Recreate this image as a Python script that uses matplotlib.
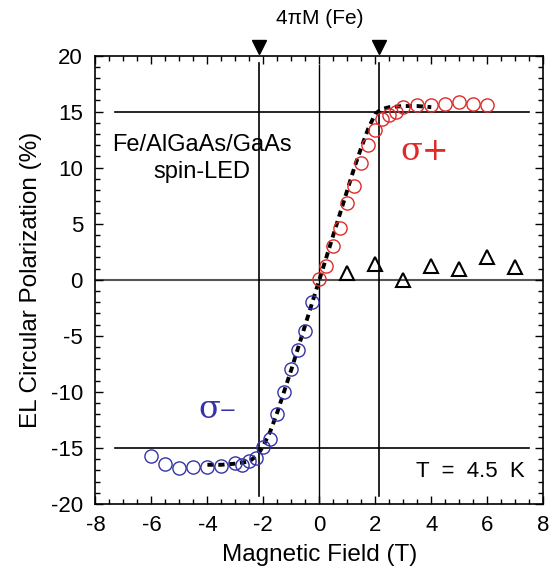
import matplotlib
matplotlib.use("Agg")
import matplotlib.pyplot as plt
from matplotlib.ticker import MultipleLocator

plt.rcParams["font.family"] = ["Liberation Sans", "DejaVu Sans"]
plt.rcParams["axes.unicode_minus"] = False

# sigma+ data (red circles)
b_plus = [0.0, 0.25, 0.5, 0.75, 1.0, 1.25, 1.5, 1.75, 2.0, 2.25, 2.5, 2.75, 3.0,
          3.5, 4.0, 4.5, 5.0, 5.5, 6.0]
p_plus = [0.05, 1.25, 3.0, 4.6, 6.85, 8.4, 10.4, 12.0, 13.4, 14.3, 14.7, 15.0, 15.4,
          15.6, 15.6, 15.7, 15.9, 15.7, 15.6]

# sigma- data (blue circles)
b_minus = [-0.25, -0.5, -0.75, -1.0, -1.25, -1.5, -1.75, -2.0, -2.25, -2.5, -2.75,
           -3.0, -3.5, -4.0, -4.5, -5.0, -5.5, -6.0]
p_minus = [-2.0, -4.55, -6.3, -8.0, -10.0, -12.0, -14.2, -14.9, -15.9, -16.2, -16.5,
           -16.3, -16.6, -16.7, -16.7, -16.8, -16.4, -15.7]

# triangles
b_tri = [1, 2, 3, 4, 5, 6, 7]
p_tri = [0.65, 1.4, 0.0, 1.2, 0.95, 2.0, 1.1]

# dashed curve (Fe magnetization)
b_fit = [-4.0, -3.5, -3.0, -2.5, -2.2, -2.0, -1.75, -1.5, -1.25, -1.0, -0.75, -0.5,
         -0.25, 0.0, 0.25, 0.5, 0.75, 1.0, 1.25, 1.5, 1.75, 2.0, 2.2, 2.5, 3.0, 3.5, 4.0]
p_fit = [-16.5, -16.5, -16.4, -16.2, -15.6, -14.8, -13.5, -11.8, -9.9, -8.0, -6.0, -4.0,
         -2.0, 0.0, 2.0, 4.0, 6.0, 8.0, 10.0, 11.8, 13.5, 14.8, 15.2, 15.4, 15.5, 15.5, 15.4]

b_sat = 2.15
red = "#e02a2a"
blue = "#3434a6"

fig = plt.figure(figsize=(5.52, 5.79), dpi=100)
ax = fig.add_axes([0.173, 0.1295, 0.811, 0.7745])

ax.plot([-8, 8], [0, 0], color="#555555", lw=1.5, zorder=1)
ax.plot([-7.3, 7.5], [15, 15], color="black", lw=1.2, zorder=1)
ax.plot([-7.3, 7.5], [-15, -15], color="black", lw=1.2, zorder=1)
ax.plot([-b_sat, -b_sat], [-19.3, 19.3], color="black", lw=1.2, zorder=1)
ax.plot([b_sat, b_sat], [-19.3, 19.3], color="black", lw=1.2, zorder=1)
ax.plot([0, 0], [-20, 19.2], color="black", lw=1.0, zorder=1)

ax.plot(b_fit, p_fit, color="black", lw=2.8, dashes=(1.6, 1.2), zorder=3)
ax.plot(b_plus, p_plus, "o", mfc="none", mec=red, ms=9.5, mew=1.0, zorder=4)
ax.plot(b_minus, p_minus, "o", mfc="none", mec=blue, ms=9.5, mew=1.0, zorder=4)
ax.plot(b_tri, p_tri, "^", mfc="none", mec="black", ms=9.5, mew=1.5, zorder=4)

ax.plot([-b_sat, b_sat], [20.75, 20.75], "v", color="black", ms=10, clip_on=False)
ax.text(0, 23.3, "4\u03c0M (Fe)", ha="center", va="center", fontsize=15)

ax.text(-4.2, 10.85, "Fe/AlGaAs/GaAs\nspin-LED", ha="center", va="center",
        fontsize=17, linespacing=1.3)
ax.text(3.75, 11.4, "\u03c3+", color=red, fontsize=23, ha="center", va="center",
        family=["DejaVu Serif"])
ax.text(-3.65, -11.6, "\u03c3\u2013", color=blue, fontsize=23, ha="center",
        va="center", family=["DejaVu Serif"])
ax.text(7.35, -17.1, "T  =  4.5  K", ha="right", va="center", fontsize=16)

ax.set_xlim(-8, 8)
ax.set_ylim(-20, 20)
ax.xaxis.set_major_locator(MultipleLocator(2))
ax.xaxis.set_minor_locator(MultipleLocator(0.5))
ax.yaxis.set_major_locator(MultipleLocator(5))
ax.yaxis.set_minor_locator(MultipleLocator(1))
ax.tick_params(which="both", direction="in", top=True, right=True, labelsize=16,
               width=1.0)
ax.tick_params(which="major", length=6)
ax.tick_params(which="minor", length=3.5)
ax.tick_params(axis="x", pad=8)
ax.tick_params(axis="y", pad=9)
for s in ax.spines.values():
    s.set_linewidth(1.2)

ax.set_xlabel("Magnetic Field (T)", fontsize=17.5, labelpad=6)
ax.set_ylabel("EL Circular Polarization (%)", fontsize=17.5, labelpad=6)

fig.savefig("out.png", dpi=100)
